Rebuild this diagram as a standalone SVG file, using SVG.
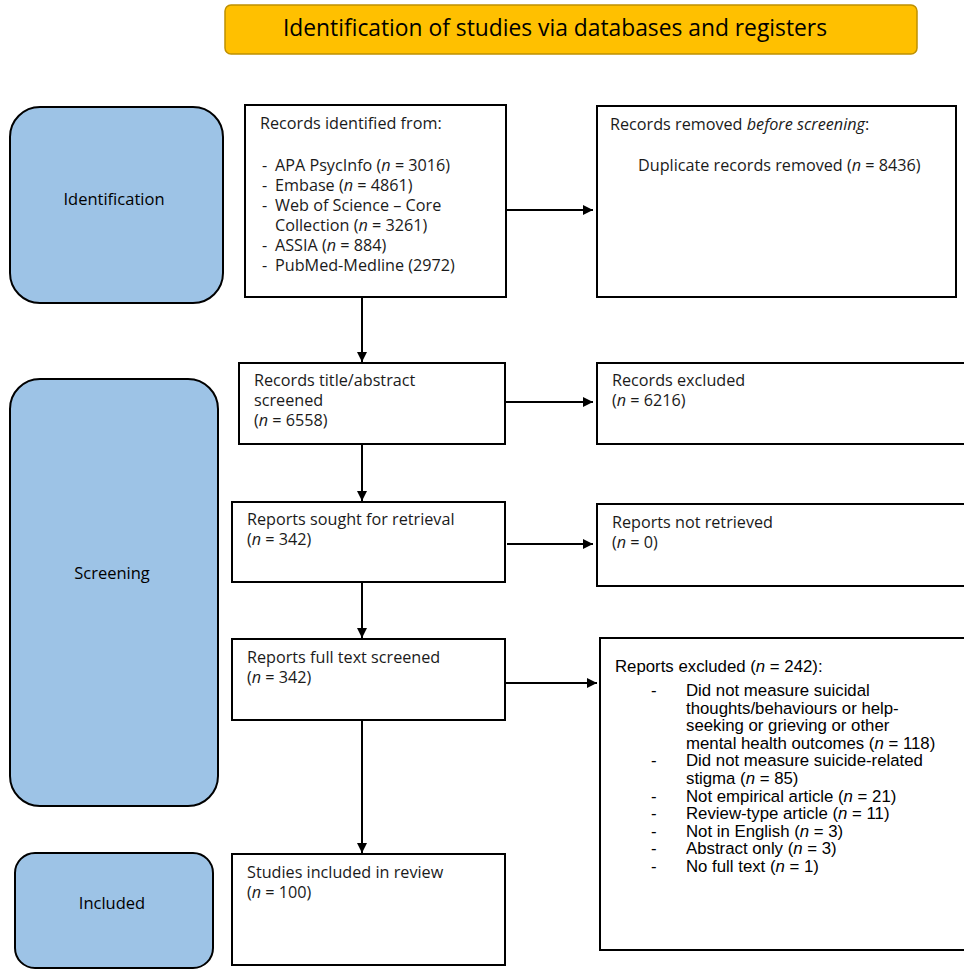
<svg xmlns="http://www.w3.org/2000/svg" width="964" height="970" viewBox="0 0 964 970">
<defs>
<marker id="ah" viewBox="0 0 10 10" refX="10" refY="5" markerWidth="10" markerHeight="10" markerUnits="userSpaceOnUse" orient="auto">
<path d="M0,0 L10,5 L0,10 Z" fill="#000"/>
</marker>
</defs>
<style>
.box{fill:#fff;stroke:#000;stroke-width:2}
.side{fill:#9DC3E6;stroke:#000;stroke-width:2}
.t{font-family:"Open Sans","DejaVu Sans",sans-serif;font-size:16.2px;fill:#1a1a1a}
.lab{font-family:"Open Sans","DejaVu Sans",sans-serif;font-size:16.5px;fill:#000;text-anchor:middle}
.a{font-family:"Liberation Sans",Arial,sans-serif;font-size:16.8px;fill:#000}
.c{stroke:#000;stroke-width:2;fill:none;marker-end:url(#ah)}
</style>
<rect width="964" height="970" fill="#fff"/>
<g id="banner">
<rect x="225" y="5" width="692" height="49" rx="6" fill="#FFC000" stroke="#BF9000" stroke-width="1.5"/>
<text x="283" y="36" font-family="Open Sans, DejaVu Sans, sans-serif" font-size="22.8" fill="#000">Identification of studies via databases and registers</text>
</g>
<g id="identification">
<rect class="side" x="10" y="107" width="213" height="196" rx="30"/>
<text class="lab" x="114" y="205">Identification</text>
</g>
<g id="screening">
<rect class="side" x="10" y="379" width="208" height="427" rx="30"/>
<text class="lab" x="112" y="579">Screening</text>
</g>
<g id="included">
<rect class="side" x="15" y="853" width="198" height="115" rx="20"/>
<text class="lab" x="112" y="909">Included</text>
</g>
<g id="records-identified">
<rect class="box" x="245" y="105" width="261" height="192"/>
<text class="t" x="260" y="129">Records identified from:</text>
<text class="t" x="262" y="171">-</text><text class="t" x="275" y="171">APA PsycInfo (<tspan font-style="italic">n</tspan> = 3016)</text>
<text class="t" x="262" y="191">-</text><text class="t" x="275" y="191">Embase (<tspan font-style="italic">n</tspan> = 4861)</text>
<text class="t" x="262" y="211">-</text><text class="t" x="275" y="211">Web of Science – Core</text>
<text class="t" x="275" y="231">Collection (<tspan font-style="italic">n</tspan> = 3261)</text>
<text class="t" x="262" y="251">-</text><text class="t" x="275" y="251">ASSIA (<tspan font-style="italic">n</tspan> = 884)</text>
<text class="t" x="262" y="271">-</text><text class="t" x="275" y="271">PubMed-Medline (2972)</text>
</g>
<g id="records-removed">
<rect class="box" x="597" y="106" width="359" height="191"/>
<text class="t" x="610" y="130">Records removed <tspan font-style="italic">before screening</tspan>:</text>
<text class="t" x="638" y="171">Duplicate records removed (<tspan font-style="italic">n</tspan> = 8436)</text>
</g>
<g id="records-screened">
<rect class="box" x="239" y="363" width="266" height="81"/>
<text class="t" x="254" y="386">Records title/abstract</text>
<text class="t" x="254" y="406">screened</text>
<text class="t" x="254" y="426">(<tspan font-style="italic">n</tspan> = 6558)</text>
</g>
<g id="records-excluded">
<rect class="box" x="597" y="363" width="380" height="81"/>
<text class="t" x="612" y="386">Records excluded</text>
<text class="t" x="612" y="406">(<tspan font-style="italic">n</tspan> = 6216)</text>
</g>
<g id="reports-sought">
<rect class="box" x="232" y="502" width="273" height="80"/>
<text class="t" x="247" y="525">Reports sought for retrieval</text>
<text class="t" x="247" y="545">(<tspan font-style="italic">n</tspan> = 342)</text>
</g>
<g id="reports-not-retrieved">
<rect class="box" x="597" y="504" width="380" height="82"/>
<text class="t" x="612" y="528">Reports not retrieved</text>
<text class="t" x="612" y="548">(<tspan font-style="italic">n</tspan> = 0)</text>
</g>
<g id="reports-full-text">
<rect class="box" x="232" y="639" width="273" height="81"/>
<text class="t" x="247" y="663">Reports full text screened</text>
<text class="t" x="247" y="683">(<tspan font-style="italic">n</tspan> = 342)</text>
</g>
<g id="reports-excluded">
<rect class="box" x="600" y="638" width="380" height="312"/>
<text class="a" x="615" y="672">Reports excluded (<tspan font-style="italic">n</tspan> = 242):</text>
<text class="a" x="651" y="696">-</text><text class="a" x="686" y="696">Did not measure suicidal</text>
<text class="a" x="686" y="713.6">thoughts/behaviours or help-</text>
<text class="a" x="686" y="731.2">seeking or grieving or other</text>
<text class="a" x="686" y="748.8">mental health outcomes (<tspan font-style="italic">n</tspan> = 118)</text>
<text class="a" x="651" y="766.4">-</text><text class="a" x="686" y="766.4">Did not measure suicide-related</text>
<text class="a" x="686" y="784">stigma (<tspan font-style="italic">n</tspan> = 85)</text>
<text class="a" x="651" y="801.6">-</text><text class="a" x="686" y="801.6">Not empirical article (<tspan font-style="italic">n</tspan> = 21)</text>
<text class="a" x="651" y="819.2">-</text><text class="a" x="686" y="819.2">Review-type article (<tspan font-style="italic">n</tspan> = 11)</text>
<text class="a" x="651" y="836.8">-</text><text class="a" x="686" y="836.8">Not in English (<tspan font-style="italic">n</tspan> = 3)</text>
<text class="a" x="651" y="854.4">-</text><text class="a" x="686" y="854.4">Abstract only (<tspan font-style="italic">n</tspan> = 3)</text>
<text class="a" x="651" y="872">-</text><text class="a" x="686" y="872">No full text (<tspan font-style="italic">n</tspan> = 1)</text>
</g>
<g id="studies-included">
<rect class="box" x="232" y="854" width="273" height="111"/>
<text class="t" x="247" y="878">Studies included in review</text>
<text class="t" x="247" y="898">(<tspan font-style="italic">n</tspan> = 100)</text>
</g>
<g id="connectors">
<line class="c" x1="362" y1="297" x2="362" y2="362"/>
<line class="c" x1="362" y1="444" x2="362" y2="501"/>
<line class="c" x1="362" y1="582" x2="362" y2="638"/>
<line class="c" x1="362" y1="720" x2="362" y2="853"/>
<line class="c" x1="506" y1="210" x2="593" y2="210"/>
<line class="c" x1="505" y1="402" x2="593" y2="402"/>
<line class="c" x1="507" y1="544" x2="593" y2="544"/>
<line class="c" x1="505" y1="683" x2="597" y2="683"/>
</g>
</svg>
